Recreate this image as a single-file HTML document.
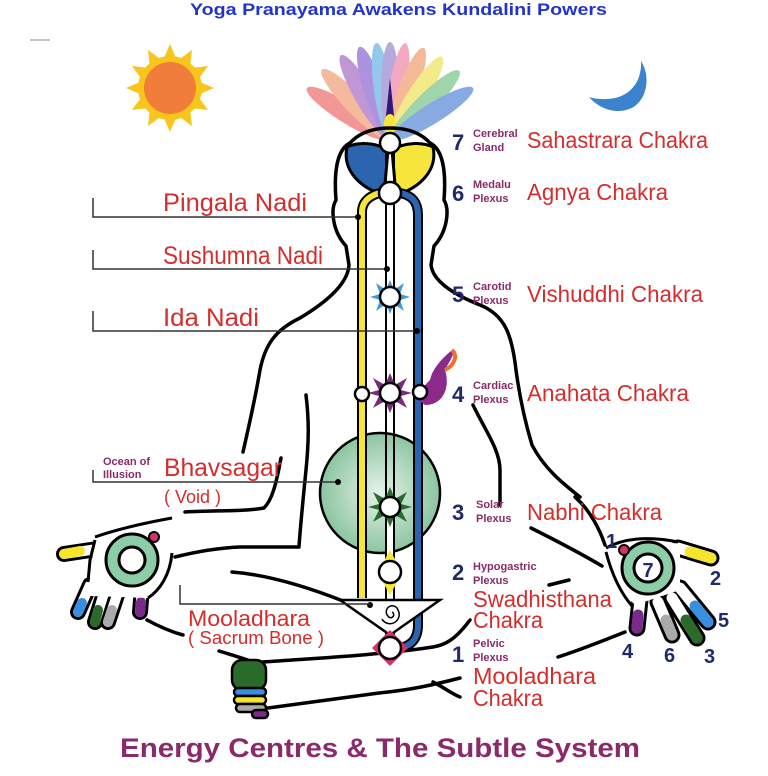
<!DOCTYPE html>
<html><head><meta charset="utf-8"><style>
html,body{margin:0;padding:0;background:#fff;}
svg{display:block;}
text{font-family:"Liberation Sans",sans-serif;}
</style></head><body>
<svg width="768" height="776" viewBox="0 0 768 776" xmlns="http://www.w3.org/2000/svg">
<rect width="768" height="776" fill="#fff"/>
<text x="190" y="15" textLength="417" lengthAdjust="spacingAndGlyphs" font-size="17" font-weight="bold" fill="#2233cc">Yoga Pranayama Awakens Kundalini Powers</text>
<line x1="30" y1="40" x2="50" y2="40" stroke="#888" stroke-width="1"/>
<!-- sun -->
<g transform="translate(170,88)">
<g fill="#f7c51c">
<polygon points="0,-44 6,-30 -6,-30"/><polygon points="0,-44 6,-30 -6,-30" transform="rotate(30)"/><polygon points="0,-44 6,-30 -6,-30" transform="rotate(60)"/><polygon points="0,-44 6,-30 -6,-30" transform="rotate(90)"/><polygon points="0,-44 6,-30 -6,-30" transform="rotate(120)"/><polygon points="0,-44 6,-30 -6,-30" transform="rotate(150)"/><polygon points="0,-44 6,-30 -6,-30" transform="rotate(180)"/><polygon points="0,-44 6,-30 -6,-30" transform="rotate(210)"/><polygon points="0,-44 6,-30 -6,-30" transform="rotate(240)"/><polygon points="0,-44 6,-30 -6,-30" transform="rotate(270)"/><polygon points="0,-44 6,-30 -6,-30" transform="rotate(300)"/><polygon points="0,-44 6,-30 -6,-30" transform="rotate(330)"/>
</g>
<circle r="32" fill="#f7c51c"/><circle r="26" fill="#f07d3a"/>
</g>
<!-- moon -->
<path d="M589,97 C600,110 620,116 635,106 C648,96 650,75 641,61 C642,80 632,94 615,98 C605,100 595,99 589,97 Z" fill="#3b82cf"/>
<!-- petals -->
<g opacity="0.72">
<ellipse cx="390" cy="90" rx="10" ry="48" fill="#ee6e6e" transform="rotate(-58 390 140)"/>
<ellipse cx="390" cy="90" rx="10" ry="48" fill="#f2a07a" transform="rotate(-44 390 140)"/>
<ellipse cx="390" cy="90" rx="10" ry="48" fill="#a96fc6" transform="rotate(-30 390 140)"/>
<ellipse cx="390" cy="90" rx="10" ry="48" fill="#8e6ad0" transform="rotate(-18 390 140)"/>
<ellipse cx="390" cy="90" rx="9" ry="48" fill="#6ab3e6" transform="rotate(-8 390 140)"/>
<ellipse cx="390" cy="90" rx="9" ry="48" fill="#9b88d0"/>
<ellipse cx="390" cy="90" rx="9" ry="48" fill="#ef88a8" transform="rotate(9 390 140)"/>
<ellipse cx="390" cy="90" rx="10" ry="48" fill="#f0a070" transform="rotate(20 390 140)"/>
<ellipse cx="390" cy="90" rx="10" ry="48" fill="#f2e35c" transform="rotate(32 390 140)"/>
<ellipse cx="390" cy="90" rx="10" ry="48" fill="#7cc48b" transform="rotate(45 390 140)"/>
<ellipse cx="390" cy="90" rx="10" ry="48" fill="#5b8ad8" transform="rotate(58 390 140)"/>
</g>
<polygon points="390,78 385,125 395,125" fill="#2c1a7a"/>
<ellipse cx="390" cy="124" rx="6" ry="10" fill="#f6e53a"/>
<!-- body outline -->
<g fill="none" stroke="#000" stroke-width="3.5" stroke-linejoin="round" stroke-linecap="round">
<path d="M350,143 C336,150 334,175 336,200 C330,210 333,232 346,246 L349,265 C348,282 330,300 300,318 C275,330 265,345 260,370 C255,400 248,430 243,452"/>
<path d="M430,143 C444,150 446,175 444,200 C450,210 447,232 434,246 L431,265 C433,282 455,295 480,305 C505,315 512,335 516,370 C520,400 526,425 532,445 C545,470 565,485 580,497"/>
<path d="M350,143 C360,132 375,128 390,128 C405,128 420,132 430,143"/>
<path d="M306,395 C309,420 309,440 306,470 C302,510 300,530 299,547 L240,547 C215,548 195,552 175,557"/>
<path d="M281,458 C276,485 272,500 264,508 C240,512 215,510 185,512"/>
<path d="M473,405 C485,430 500,450 500,470 C500,485 500,495 500,505"/>
<path d="M531,528 C555,540 580,553 602,566"/>
<path d="M232,572 C270,575 310,588 343,601 C365,612 380,622 393,635"/>
<path d="M147,620 C160,627 172,632 183,635"/>
<path d="M219,651 C235,656 250,660 263,666"/>
<path d="M263,662 C320,658 380,655 433,647 C445,645 455,640 470,620"/>
<path d="M268,708 C310,702 350,697 379,693 C410,690 433,685 460,678"/>
<path d="M433,682 C445,688 452,694 460,697"/>
<path d="M558,657 C580,650 605,640 625,632"/>
<line x1="549" y1="585" x2="569" y2="580"/>
<path d="M575,497 C590,510 600,530 605,545"/>
</g>
<!-- left hand -->
<g stroke-linecap="round" fill="none">
<path d="M90,585 L78,612 M105,590 L95,622 M118,592 L108,622 M142,588 L140,612 M97,549 L64,554" stroke="#000" stroke-width="16"/>
<path d="M90,585 L78,612 M105,590 L95,622 M118,592 L108,622 M142,588 L140,612 M97,549 L64,554" stroke="#fff" stroke-width="10"/>
<path d="M82,603 L78,612" stroke="#3a8ee0" stroke-width="10"/>
<path d="M98,610 L95,622" stroke="#2a6a2a" stroke-width="10"/>
<path d="M112,610 L108,622" stroke="#aaa" stroke-width="10"/>
<path d="M141,602 L140,612" stroke="#7a2a8a" stroke-width="10"/>
<path d="M80,551 L64,554" stroke="#f5e62c" stroke-width="10"/>
</g>
<path d="M95,537 C120,528 150,525 172,523 C176,545 172,575 148,598 L90,596 C88,580 92,565 95,537 Z" fill="#fff" stroke="none"/>
<path d="M95,537 C120,528 150,522 172,518 M172,553 C170,575 160,590 148,598 M95,540 L90,560 L88,582" fill="none" stroke="#000" stroke-width="3"/>
<circle cx="132" cy="560" r="26" fill="#8ccca6" stroke="#000" stroke-width="3"/>
<circle cx="132" cy="560" r="13" fill="#fff" stroke="#000" stroke-width="3"/>
<circle cx="154" cy="537" r="5" fill="#d8306a" stroke="#000" stroke-width="2"/>
<!-- right hand -->
<g stroke-linecap="round" fill="none">
<path d="M680,588 L708,622 M672,598 L697,638 M658,602 L672,635 M640,600 L637,628 M678,548 L711,558" stroke="#000" stroke-width="17"/>
<path d="M680,588 L708,622 M672,598 L697,638 M658,602 L672,635 M640,600 L637,628 M678,548 L711,558" stroke="#fff" stroke-width="11"/>
<path d="M695,606 L708,622" stroke="#3a8ee0" stroke-width="11"/>
<path d="M686,620 L697,638" stroke="#2a6a2a" stroke-width="11"/>
<path d="M666,620 L672,635" stroke="#aaa" stroke-width="11"/>
<path d="M638,615 L637,628" stroke="#7a2a8a" stroke-width="11"/>
<path d="M690,552 L711,558" stroke="#f5e62c" stroke-width="11"/>
</g>
<path d="M606,548 C630,535 660,538 680,545 L680,590 L635,605 C620,590 610,570 606,548 Z" fill="#fff"/>
<path d="M606,548 C630,535 660,538 678,542 M606,552 C612,575 620,592 632,606" fill="none" stroke="#000" stroke-width="3"/>
<circle cx="648" cy="568" r="26" fill="#8ccca6" stroke="#000" stroke-width="3"/>
<circle cx="648" cy="568" r="14" fill="#fff" stroke="#000" stroke-width="3"/>
<text x="648" y="577" text-anchor="middle" font-size="20" font-weight="bold" fill="#1f2a6e">7</text>
<circle cx="624" cy="550" r="5" fill="#d8306a" stroke="#000" stroke-width="2"/>
<g font-size="20" font-weight="bold" fill="#1f2a6e">
<text x="606" y="548">1</text><text x="710" y="585">2</text><text x="704" y="663">3</text><text x="622" y="658">4</text><text x="718" y="627">5</text><text x="664" y="662">6</text>
</g>
<!-- fist -->
<g stroke="#000" stroke-width="2.5">
<rect x="232" y="660" width="34" height="30" rx="10" fill="#2a6a2a"/>
<rect x="234" y="688" width="32" height="8" rx="4" fill="#3a8ee0"/>
<rect x="234" y="696" width="32" height="8" rx="4" fill="#f5e62c"/>
<rect x="236" y="704" width="30" height="8" rx="4" fill="#aaa"/>
<rect x="252" y="710" width="16" height="8" rx="4" fill="#7a2a8a"/>
</g>
<!-- green circle -->
<defs><radialGradient id="g" cx="0.5" cy="0.5" r="0.5"><stop offset="0" stop-color="#e6f3ea"/><stop offset="1" stop-color="#8cc4a0"/></radialGradient></defs>
<circle cx="380" cy="493" r="60" fill="url(#g)" stroke="#000" stroke-width="2.5"/>
<!-- head lobes -->
<path d="M347,147 C342,170 360,188 384,195 L388,150 C375,142 358,142 347,147 Z" fill="#2b65b0" stroke="#000" stroke-width="3"/>
<path d="M433,147 C438,170 420,188 396,195 L392,150 C405,142 422,142 433,147 Z" fill="#f6e53a" stroke="#000" stroke-width="3"/>
<!-- channels -->
<path d="M362,598 L362,212 C362,200 372,195 380,193" fill="none" stroke="#000" stroke-width="10"/>
<path d="M362,598 L362,212 C362,200 372,195 380,193" fill="none" stroke="#f6e53a" stroke-width="6"/>
<path d="M418,215 C418,200 410,195 400,193 M418,215 L418,625 C418,640 410,646 400,648" fill="none" stroke="#000" stroke-width="10"/>
<path d="M418,215 C418,200 410,195 400,193 M418,215 L418,625 C418,640 410,646 400,648" fill="none" stroke="#2b65b0" stroke-width="6"/>
<line x1="386" y1="143" x2="386" y2="648" stroke="#000" stroke-width="2"/>
<line x1="394" y1="143" x2="394" y2="648" stroke="#000" stroke-width="2"/>
<rect x="387" y="520" width="6" height="45" fill="#fff"/>
<line x1="386" y1="525" x2="386" y2="560" stroke="#000" stroke-width="2" stroke-dasharray="6,4"/>
<line x1="394" y1="525" x2="394" y2="560" stroke="#000" stroke-width="2" stroke-dasharray="6,4"/>
<!-- triangle -->
<polygon points="340,600 440,600 390,635" fill="#fff" stroke="#000" stroke-width="2.5"/>
<path d="M392,612 a3,3 0 1 1 -4,4 a6,6 0 1 1 10,-6 a9,9 0 1 1 -16,9" fill="none" stroke="#000" stroke-width="1.5"/>
<circle cx="370" cy="605" r="3" fill="#000"/>
<!-- stars -->
<polygon points="390,280 394,290 404,283 400,294 410,297 400,300 404,311 394,304 390,314 386,304 376,311 380,300 370,297 380,294 376,283 386,290" fill="#3a9ee0"/>
<polygon points="390,373 395,385 407,378 401,390 412,393 401,396 407,408 395,401 390,413 385,401 373,408 379,396 368,393 379,390 373,378 385,385" fill="#7a2a7a"/>
<polygon points="390,487 395,499 407,492 401,504 412,507 401,510 407,522 395,515 390,527 385,515 373,522 379,510 368,507 379,504 373,492 385,499" fill="#2a6a2a"/>
<polygon points="390,550 402,572 378,572" fill="#f6e53a"/>
<polygon points="390,595 402,573 378,573" fill="#f6e53a"/>
<polygon points="390,630 408,648 390,666 372,648" fill="#d8306a"/>
<path d="M425,405 C445,405 450,385 445,370 C450,360 455,355 452,350 C440,360 432,370 430,380 C425,385 420,390 418,400 Z" fill="#8a2a8a"/>
<path d="M445,370 C455,365 458,355 452,350" fill="none" stroke="#f07030" stroke-width="4"/>
<!-- chakra circles -->
<g fill="#fff" stroke="#000" stroke-width="2.5">
<circle cx="390" cy="143" r="10"/><circle cx="390" cy="193" r="11"/><circle cx="390" cy="297" r="10"/>
<circle cx="390" cy="393" r="10"/><circle cx="362" cy="394" r="7"/><circle cx="420" cy="392" r="7"/>
<circle cx="390" cy="507" r="10"/><circle cx="390" cy="572" r="11"/><circle cx="390" cy="648" r="11"/>
</g>
<!-- leader lines -->
<g fill="none" stroke="#333" stroke-width="1.5">
<path d="M93,198 L93,217 L358,217"/><path d="M93,250 L93,269 L387,269"/><path d="M93,311 L93,331 L417,331"/>
<path d="M93,470 L93,482 L338,482"/><path d="M180,585 L180,604 L370,604"/>
</g>
<g fill="#000"><circle cx="358" cy="217" r="3"/><circle cx="387" cy="269" r="3"/><circle cx="417" cy="331" r="3"/><circle cx="338" cy="482" r="3"/></g>
<!-- left labels -->
<g fill="#d62c2c" font-size="25">
<text x="163" y="211" textLength="144" lengthAdjust="spacingAndGlyphs">Pingala Nadi</text>
<text x="163" y="264" textLength="160" lengthAdjust="spacingAndGlyphs">Sushumna Nadi</text>
<text x="163" y="326" textLength="96" lengthAdjust="spacingAndGlyphs">Ida Nadi</text>
<text x="164" y="476" textLength="118" lengthAdjust="spacingAndGlyphs">Bhavsagar</text>
<text x="164" y="503" font-size="18">( Void  )</text>
<text x="188" y="626" font-size="22" textLength="122" lengthAdjust="spacingAndGlyphs">Mooladhara</text>
<text x="188" y="644" font-size="18" textLength="136" lengthAdjust="spacingAndGlyphs">( Sacrum Bone )</text>
</g>
<text x="103" y="465" font-size="11" font-weight="bold" fill="#8a2a6a">Ocean of</text>
<text x="103" y="478" font-size="11" font-weight="bold" fill="#8a2a6a">Illusion</text>
<!-- right labels -->
<g font-size="22" font-weight="bold" fill="#1f2a6e">
<text x="452" y="150">7</text><text x="452" y="201">6</text><text x="452" y="302">5</text><text x="452" y="402">4</text><text x="452" y="520">3</text><text x="452" y="580">2</text><text x="452" y="662">1</text>
</g>
<g font-size="11" font-weight="bold" fill="#8a2a6a">
<text x="473" y="137">Cerebral</text><text x="473" y="151">Gland</text>
<text x="473" y="188">Medalu</text><text x="473" y="202">Plexus</text>
<text x="473" y="290">Carotid</text><text x="473" y="304">Plexus</text>
<text x="473" y="389">Cardiac</text><text x="473" y="403">Plexus</text>
<text x="476" y="508">Solar</text><text x="476" y="522">Plexus</text>
<text x="473" y="570">Hypogastric</text><text x="473" y="584">Plexus</text>
<text x="473" y="647">Pelvic</text><text x="473" y="661">Plexus</text>
</g>
<g fill="#d62c2c" font-size="23">
<text x="527" y="148" textLength="181" lengthAdjust="spacingAndGlyphs">Sahastrara Chakra</text>
<text x="527" y="200" textLength="141" lengthAdjust="spacingAndGlyphs">Agnya Chakra</text>
<text x="527" y="302" textLength="176" lengthAdjust="spacingAndGlyphs">Vishuddhi Chakra</text>
<text x="527" y="401" textLength="162" lengthAdjust="spacingAndGlyphs">Anahata Chakra</text>
<text x="527" y="520" textLength="135" lengthAdjust="spacingAndGlyphs">Nabhi Chakra</text>
<text x="473" y="607" textLength="139" lengthAdjust="spacingAndGlyphs">Swadhisthana</text>
<text x="473" y="628" textLength="70" lengthAdjust="spacingAndGlyphs">Chakra</text>
<text x="473" y="684" textLength="123" lengthAdjust="spacingAndGlyphs">Mooladhara</text>
<text x="473" y="706" textLength="70" lengthAdjust="spacingAndGlyphs">Chakra</text>
</g>
<text x="120" y="757" textLength="520" lengthAdjust="spacingAndGlyphs" font-size="27" font-weight="bold" fill="#8a2a6a">Energy Centres &amp; The Subtle System</text>
</svg>
</body></html>
